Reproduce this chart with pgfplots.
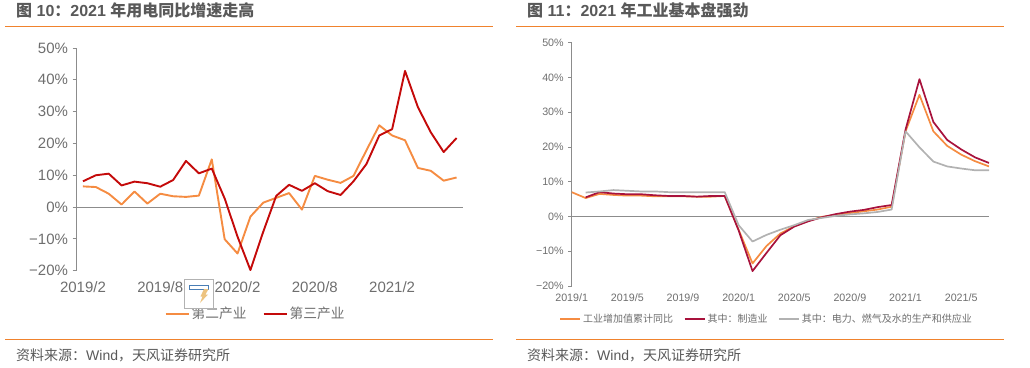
\documentclass[border=0pt]{standalone}
\usepackage{fontspec}
\usepackage{pgfplots}
\pgfplotsset{compat=1.18}
\setmainfont{Liberation Sans}
\newfontfamily\cjk{Noto Sans CJK SC}
\definecolor{ruleor}{HTML}{F0822D}
\definecolor{titlec}{HTML}{595959}
\definecolor{tickc}{HTML}{6E6E6E}
\definecolor{axisc}{HTML}{8C8C8C}
\definecolor{ora}{HTML}{F58C42}
\definecolor{dred}{HTML}{C40A0A}
\definecolor{mred}{HTML}{A8123C}
\definecolor{gry}{HTML}{B2B2B2}
\definecolor{iconb}{HTML}{4A7EB5}
\definecolor{icono}{HTML}{EDC37F}
\pgfplotsset{
  common/.style={
    scale only axis,
    axis lines=left,
    axis line style={-,draw=axisc,line width=0.9pt},
    x axis line style={draw=none},
    y tick style={draw=axisc,line width=0.9pt},
    x tick style={draw=none},
    tick align=outside,
    major tick length=4pt,
    ymin=-20,ymax=50,
    ytick={-20,-10,0,10,20,30,40,50},
    yticklabels={−20\%,−10\%,0\%,10\%,20\%,30\%,40\%,50\%},
    legend cell align=left,
    legend columns=-1,
  },
}
\begin{document}
\begin{tikzpicture}[x=1pt,y=1pt]
\path[use as bounding box] (0,0) rectangle (1030,367);
% left panel
\begin{axis}[common,
  at={(76.5pt,96.3pt)},anchor=south west,
  width=386.5pt,height=222.7pt,
  xmin=-0.5,xmax=29.5,
  xtick={0,6,12,18,24},
  xticklabels={2019/2,2019/8,2020/2,2020/8,2021/2},
  tick label style={font=\fontsize{15}{15}\selectfont,text=tickc},
  yticklabel style={xshift=-1pt},
  xticklabel style={yshift=-3pt},
  legend style={at={(0.463,-0.194)},anchor=center,draw=none,fill=none,inner sep=0pt,
    font=\fontsize{13.7}{14}\selectfont\cjk\color{tickc},
    /tikz/every even column/.append style={column sep=14pt}},
  legend image code/.code={\draw[#1,line width=2.2pt] (0pt,0pt) -- (23pt,0pt);},
]
\addplot[forget plot,draw=axisc,line width=0.9pt] coordinates {(-0.5,0)(29.5,0)};
\addplot[ora,line width=1.9pt,line join=round] coordinates {
(0,6.5)(1,6.3)(2,4.2)(3,0.8)(4,4.9)(5,1.1)(6,4.2)(7,3.4)(8,3.2)(9,3.6)
(10,15)(11,-10.1)(12,-14.6)(13,-3)(14,1.4)(15,2.9)(16,4.4)(17,-0.8)(18,9.8)(19,8.6)
(20,7.6)(21,9.8)(22,17.8)(23,25.7)(24,22.5)(25,21)(26,12.3)(27,11.4)(28,8.3)(29,9.3)};
\addlegendentry{第二产业}
\addplot[dred,line width=1.9pt,line join=round] coordinates {
(0,8.1)(1,10)(2,10.5)(3,6.8)(4,8)(5,7.5)(6,6.4)(7,8.5)(8,14.5)(9,10.6)
(10,12.1)(11,2.7)(12,-9.3)(13,-19.8)(14,-7.7)(15,3.5)(16,7)(17,5.1)(18,7.5)(19,5)
(20,3.8)(21,8.1)(22,13.5)(23,22.5)(24,24.5)(25,42.8)(26,31.4)(27,23.5)(28,17.3)(29,21.7)};
\addlegendentry{第三产业}
\end{axis}
% right panel
\begin{axis}[common,
  at={(571.7pt,81pt)},anchor=south west,
  width=417.3pt,height=243.3pt,
  xmin=0,xmax=30,
  xtick={0,4,8,12,16,20,24,28},
  xticklabels={2019/1,2019/5,2019/9,2020/1,2020/5,2020/9,2021/1,2021/5},
  tick label style={font=\fontsize{10.7}{11}\selectfont,text=tickc},
  yticklabel style={xshift=-1pt},
  xticklabel style={yshift=-1pt},
  major tick length=3.5pt,
  legend style={at={(0.467,-0.136)},anchor=center,draw=none,fill=none,inner sep=0pt,
    font=\fontsize{10}{11}\selectfont\cjk\color{tickc},
    /tikz/every even column/.append style={column sep=8.5pt}},
  legend image code/.code={\draw[#1,line width=1.9pt] (0pt,0pt) -- (20pt,0pt);},
]
\addplot[forget plot,draw=axisc,line width=0.9pt] coordinates {(0,0)(30,0)};
\addplot[ora,line width=1.7pt,line join=round] coordinates {
(0,7)(1,5.3)(2,6.5)(3,6.2)(4,6)(5,6)(6,5.8)(7,5.8)(8,5.8)(9,5.7)(10,5.7)(11,5.9)
(12,-3.8)(13,-13.5)(14,-8.5)(15,-4.9)(16,-2.8)(17,-1.3)(18,-0.1)(19,0.5)(20,1)(21,1.5)
(22,2)(23,2.8)(24,24.5)(25,35)(26,24.5)(27,20.3)(28,17.8)(29,15.9)(30,14.4)};
\addlegendentry{工业增加值累计同比}
\addplot[mred,line width=1.7pt,line join=round] coordinates {
(1,5.5)(2,7)(3,6.6)(4,6.4)(5,6.4)(6,6.1)(7,5.9)(8,5.9)(9,5.7)(10,5.9)(11,5.9)
(12,-4)(13,-15.7)(14,-10.5)(15,-5.4)(16,-2.9)(17,-1.4)(18,-0.2)(19,0.7)(20,1.4)(21,1.9)
(22,2.7)(23,3.3)(24,25)(25,39.5)(26,27.2)(27,22)(28,19.3)(29,17)(30,15.4)};
\addlegendentry{其中：制造业}
\addplot[gry,line width=1.7pt,line join=round] coordinates {
(1,6.9)(2,7.2)(3,7.6)(4,7.4)(5,7.2)(6,7.2)(7,7)(8,7)(9,7)(10,7)(11,7)
(12,-2.5)(13,-7.2)(14,-5.3)(15,-3.8)(16,-2.5)(17,-1)(18,-0.4)(19,0.2)(20,0.6)(21,0.9)
(22,1.3)(23,2)(24,24.5)(25,19.9)(26,15.8)(27,14.4)(28,13.8)(29,13.3)(30,13.3)};
\addlegendentry{其中：电力、燃气及水的生产和供应业}
\end{axis}
% frame rules and headings
\draw[ruleor,line width=0.9pt] (5,340.5) -- (493,340.5);
\draw[ruleor,line width=0.9pt] (5,27.5) -- (493,27.5);
\draw[ruleor,line width=0.9pt] (516,340.5) -- (1004,340.5);
\draw[ruleor,line width=0.9pt] (516,27.5) -- (1004,27.5);
\node[anchor=west,inner sep=0pt,text=titlec] at (16,356.5)
  {\fontsize{16}{17}\selectfont\bfseries{\cjk\bfseries 图} 10{\cjk\bfseries ：}2021 {\cjk\bfseries 年用电同比增速走高}};
\node[anchor=west,inner sep=0pt,text=titlec] at (527,356.5)
  {\fontsize{16}{17}\selectfont\bfseries{\cjk\bfseries 图} 11{\cjk\bfseries ：}2021 {\cjk\bfseries 年工业基本盘强劲}};
\node[anchor=west,inner sep=0pt,text=titlec] at (16,11.5)
  {\fontsize{14}{15}\selectfont{\cjk 资料来源：}Wind{\cjk ，天风证券研究所}};
\node[anchor=west,inner sep=0pt,text=titlec] at (527,11.5)
  {\fontsize{14}{15}\selectfont{\cjk 资料来源：}Wind{\cjk ，天风证券研究所}};
% small pasted icon on the left panel
\filldraw[fill=white,draw=black!30,line width=0.7pt] (184.5,59) rectangle (213.5,87.5);
\draw[draw=iconb,line width=0.8pt] (189.5,77.5) rectangle (208.5,82);
\fill[icono] (204,78) -- (208.5,78) -- (205.5,72.5) -- (208,72.5) -- (200,64) -- (202.5,70.5) -- (200.5,70.5) -- cycle;
\end{tikzpicture}
\end{document}
